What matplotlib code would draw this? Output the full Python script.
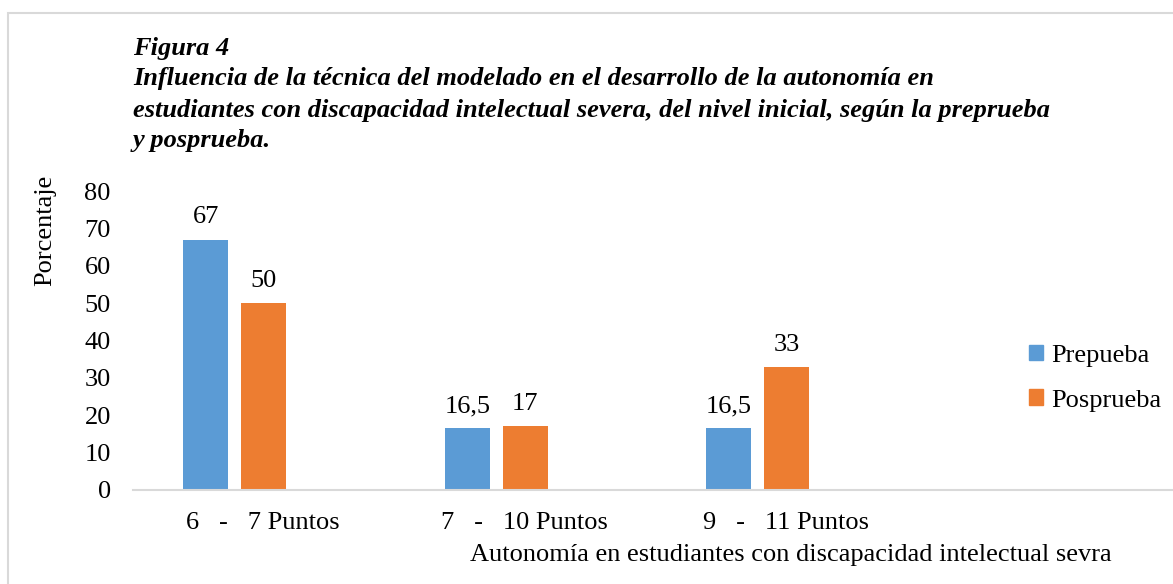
"""
Bar chart: autonomy levels, pre-test vs post-test (Figura 4).
"""

import numpy as np
import matplotlib
matplotlib.use('Agg')
import matplotlib.pyplot as plt
import matplotlib.transforms as mtransforms
from matplotlib.patches import Rectangle, Patch

# data
categories = ['6   -   7 Puntos', '7   -   10 Puntos', '9   -   11 Puntos']
prepueba = [67, 16.5, 16.5]
posprueba = [50, 17, 33]
series_names = ['Prepueba', 'Posprueba']
value_labels_pre = ['67', '16,5', '16,5']
value_labels_pos = ['50', '17', '33']

title_lines = ['Figura 4',
               'Influencia de la técnica del modelado en el desarrollo de la autonomía en',
               'estudiantes con discapacidad intelectual severa, del nivel inicial, según la preprueba',
               'y posprueba.']

blue = '#5B9BD5'
orange = '#ED7D31'
grey = '#D9D9D9'
fs = 19

plt.rcParams.update({'font.family': ['Liberation Serif', 'DejaVu Serif'],
                     'font.size': fs})

fig = plt.figure(figsize=(11.73, 5.84), dpi=100)
W, H = 1173, 584

# light frame around the whole chart
fig.patches.append(Rectangle((8 / W, -0.1), 1.2, (H - 13) / H + 0.1,
                             transform=fig.transFigure, fill=False,
                             edgecolor=grey, linewidth=1.5))

ax = fig.add_axes([133 / W, (H - 490) / H, 1 - 133 / W, (490 - 191) / H])

x = np.arange(len(categories))
width = 0.172
offset = 0.111
bars1 = ax.bar(x - offset, prepueba, width, color=blue, label=series_names[0])
bars2 = ax.bar(x + offset, posprueba, width, color=orange, label=series_names[1])

for b, lab in zip(bars1, value_labels_pre):
    ax.annotate(lab, (b.get_x() + b.get_width() / 2, b.get_height()),
                xytext=(0, 8), textcoords='offset points',
                ha='center', va='bottom', fontsize=fs)
for b, lab in zip(bars2, value_labels_pos):
    ax.annotate(lab, (b.get_x() + b.get_width() / 2, b.get_height()),
                xytext=(0, 8), textcoords='offset points',
                ha='center', va='bottom', fontsize=fs)

ax.set_ylim(0, 80)
ax.set_yticks(np.arange(0, 81, 10))
ax.set_xlim(-0.39, 3.59)
ax.set_xticks(x)
ax.set_xticklabels(categories)
ax.tick_params(axis='both', length=0)
ax.tick_params(axis='y', pad=16)
ax.tick_params(axis='x', pad=16)

# category labels sit a little right of the group centre
shift = mtransforms.ScaledTranslation(28 / 100, 0, fig.dpi_scale_trans)
for lab in ax.get_xticklabels():
    lab.set_transform(lab.get_transform() + shift)

for s in ['top', 'right', 'left']:
    ax.spines[s].set_visible(False)
ax.spines['bottom'].set_color(grey)
ax.spines['bottom'].set_linewidth(1.5)

# axis titles
fig.text(791 / W, 1 - 555 / H,
         'Autonomía en estudiantes con discapacidad intelectual sevra',
         ha='center', va='center', fontsize=fs)
fig.text(45 / W, 1 - 230 / H, 'Porcentaje', rotation=90,
         ha='center', va='center', fontsize=fs)

# title block
for i, line in enumerate(title_lines):
    fig.text(133 / W, 1 - (48 + 31 * i) / H, line, ha='left', va='center',
             fontsize=fs, fontweight='bold', fontstyle='italic')

# legend
handles = [Patch(color=blue), Patch(color=orange)]
fig.legend(handles, series_names, loc='center left',
           bbox_to_anchor=(1005 / W, 1 - 378 / H), frameon=False,
           handlelength=0.55, handleheight=0.55, handletextpad=0.3,
           labelspacing=0.85, fontsize=fs)

fig.savefig('out.png', dpi=100)
